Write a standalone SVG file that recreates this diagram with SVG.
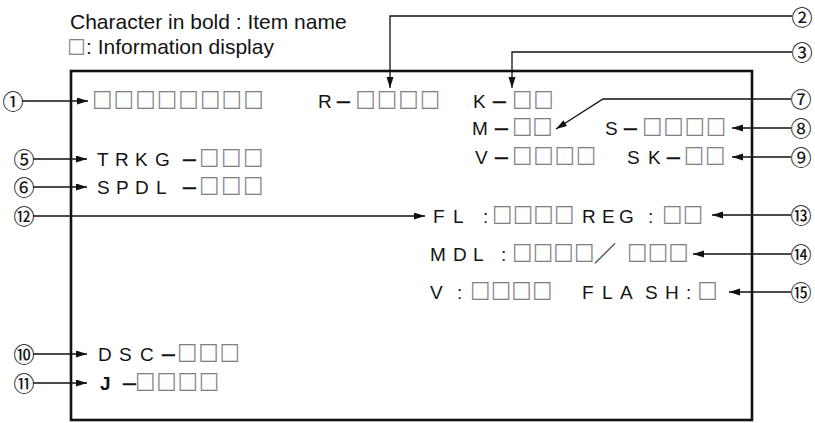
<svg xmlns="http://www.w3.org/2000/svg" width="815" height="423" viewBox="0 0 815 423">
<style>
.hd{font-family:"Liberation Sans",Arial,sans-serif;font-size:21px;fill:#111}
.lb{font-family:"Liberation Sans",Arial,sans-serif;font-size:19px;fill:#111}
.ds{font-family:"Liberation Sans",Arial,sans-serif;font-size:23px;stroke:#111;stroke-width:0.5px}
.bx{font-family:"Noto Sans CJK JP",sans-serif;font-size:20px;fill:#7a7a7a;stroke:#7a7a7a;stroke-width:0.35px;letter-spacing:1.3px}
.sl{font-family:"Noto Sans CJK JP",sans-serif;font-size:22px;fill:#444;stroke:#444;stroke-width:0.2px}
.cn{font-family:"Noto Sans CJK JP",sans-serif;font-size:21px;fill:#111;stroke:#111;stroke-width:0.15px;text-anchor:middle}
.it{opacity:0.99}
.ln{fill:none;stroke:#111;stroke-width:1.3}
.fr{fill:none;stroke:#111;stroke-width:2.6}
</style>
<defs>
<marker id="ah" markerUnits="userSpaceOnUse" markerWidth="12" markerHeight="8" refX="11" refY="3.5" orient="auto">
<path d="M0,0 L11,3.5 L0,7 z" fill="#111"/>
</marker>
</defs>
<rect width="815" height="423" fill="#fff"/>
<g id="legend" class="it">
<text class="hd" x="70" y="29">Character in bold : Item name</text>
<text class="hd" y="54"><tspan class="bx" x="67.5" style="font-size:18px;letter-spacing:0">□</tspan><tspan x="86">: Information display</tspan></text>
</g>
<rect id="frame" class="fr" x="71" y="71" width="681" height="349"/>
<g id="connectors">
<path class="ln" d="M22,101 H88" marker-end="url(#ah)"/>
<path class="ln" d="M792,16 H390 V88" marker-end="url(#ah)"/>
<path class="ln" d="M792,52 H512 V88" marker-end="url(#ah)"/>
<path class="ln" d="M791,99 H603 L556,129" marker-end="url(#ah)"/>
<path class="ln" d="M791,128 H732" marker-end="url(#ah)"/>
<path class="ln" d="M791,157 H732" marker-end="url(#ah)"/>
<path class="ln" d="M33,159 H87" marker-end="url(#ah)"/>
<path class="ln" d="M33,187 H87" marker-end="url(#ah)"/>
<path class="ln" d="M33,216 H425" marker-end="url(#ah)"/>
<path class="ln" d="M791,215 H712" marker-end="url(#ah)"/>
<path class="ln" d="M791,254 H693" marker-end="url(#ah)"/>
<path class="ln" d="M791,292 H729" marker-end="url(#ah)"/>
<path class="ln" d="M33,354 H87" marker-end="url(#ah)"/>
<path class="ln" d="M33,383 H87" marker-end="url(#ah)"/>
</g>
<g id="callouts" class="it">
<text class="cn" x="13" y="109">①</text>
<text class="cn" x="802" y="24.5">②</text>
<text class="cn" x="802" y="60">③</text>
<text class="cn" x="801" y="107">⑦</text>
<text class="cn" x="801" y="136">⑧</text>
<text class="cn" x="801" y="165">⑨</text>
<text class="cn" x="24" y="167">⑤</text>
<text class="cn" x="24" y="195">⑥</text>
<text class="cn" x="24" y="224">⑫</text>
<text class="cn" x="801" y="223">⑬</text>
<text class="cn" x="801" y="262">⑭</text>
<text class="cn" x="801" y="300">⑮</text>
<text class="cn" x="24" y="362">⑩</text>
<text class="cn" x="24" y="391">⑪</text>
</g>
<g id="item-title" class="it"><text class="lb" y="108"><tspan class="bx" x="92.2" style="letter-spacing:1.6px">□□□□□□□□</tspan></text></g>
<g id="item-R" class="it"><text class="lb" y="108"><tspan x="318">R</tspan><tspan class="ds" x="337">–</tspan><tspan class="bx" x="355.5" style="letter-spacing:1.5px">□□□□</tspan></text></g>
<g id="item-K" class="it"><text class="lb" y="108"><tspan x="473">K</tspan><tspan class="ds" x="493">–</tspan><tspan class="bx" x="512.2">□□</tspan></text></g>
<g id="item-M" class="it"><text class="lb" y="135"><tspan x="472">M</tspan><tspan class="ds" x="495">–</tspan><tspan class="bx" x="512.2" style="letter-spacing:0.3px">□□</tspan></text></g>
<g id="item-S" class="it"><text class="lb" y="135"><tspan x="605">S</tspan><tspan class="ds" x="624">–</tspan><tspan class="bx" x="642.2">□□□□</tspan></text></g>
<g id="item-V" class="it"><text class="lb" y="164"><tspan x="475">V</tspan><tspan class="ds" x="495">–</tspan><tspan class="bx" x="512.2">□□□□</tspan></text></g>
<g id="item-SK" class="it"><text class="lb" y="164"><tspan x="627 648">SK</tspan><tspan class="ds" x="667">–</tspan><tspan class="bx" x="684">□□</tspan></text></g>
<g id="item-TRKG" class="it"><text class="lb" y="166"><tspan x="97 115 135 155">TRKG</tspan><tspan class="ds" x="183">–</tspan><tspan class="bx" x="199.2" style="letter-spacing:2px">□□□</tspan></text></g>
<g id="item-SPDL" class="it"><text class="lb" y="194"><tspan x="97 116 135 156">SPDL</tspan><tspan class="ds" x="183">–</tspan><tspan class="bx" x="199.2" style="letter-spacing:2px">□□□</tspan></text></g>
<g id="item-FL" class="it"><text class="lb" y="223"><tspan x="433 453 483">FL:</tspan><tspan class="bx" x="492.2" style="letter-spacing:0.7px">□□□□</tspan><tspan x="582 602 619 648">REG:</tspan><tspan class="bx" x="662.2" style="letter-spacing:0.7px">□□</tspan></text></g>
<g id="item-MDL" class="it"><text class="lb" y="261"><tspan x="430 453 473 501">MDL:</tspan><tspan class="bx" x="512.2" style="letter-spacing:0.7px">□□□□</tspan><tspan class="sl" x="594">／</tspan><tspan class="bx" x="627.2" style="letter-spacing:0.7px">□□□</tspan></text></g>
<g id="item-VFLASH" class="it"><text class="lb" y="299"><tspan x="430 457">V:</tspan><tspan class="bx" x="470.2" style="letter-spacing:0.7px">□□□□</tspan><tspan x="582 602 620 645 665 686">FLASH:</tspan><tspan class="bx" x="697.5">□</tspan></text></g>
<g id="item-DSC" class="it"><text class="lb" y="361"><tspan x="98 119 140">DSC</tspan><tspan class="ds" x="162">–</tspan><tspan class="bx" x="177.2">□□□</tspan></text></g>
<g id="item-J" class="it"><text class="lb" y="390"><tspan x="100" font-weight="bold">J</tspan><tspan class="ds" x="123">–</tspan><tspan class="bx" x="135.2">□□□□</tspan></text></g>
</svg>
